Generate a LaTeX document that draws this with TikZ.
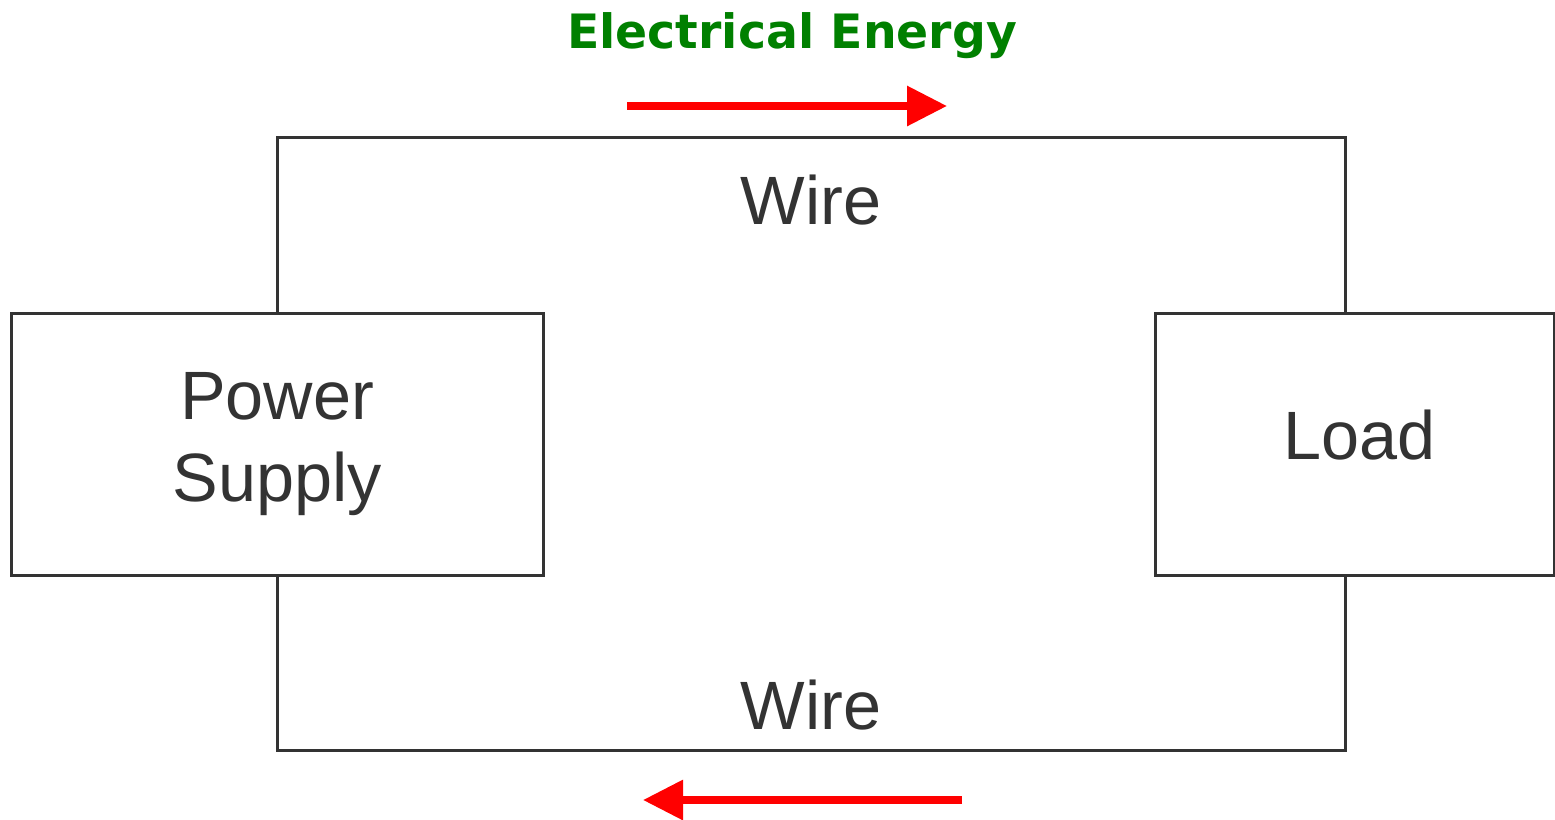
\documentclass[tikz,border=0pt]{standalone}
\usepackage{fontspec}
\setmainfont{Liberation Sans}
\newfontfamily\titlefont{DejaVu Sans}
\usetikzlibrary{arrows.meta}
\definecolor{wiregray}{HTML}{333333}
\definecolor{energygreen}{HTML}{008000}

\begin{document}
\begin{tikzpicture}[x=0.75pt, y=-0.75pt,
    block/.style={draw=wiregray, line width=2.25pt, text=wiregray, align=center,
        font=\fontsize{51.3}{61.5}\selectfont, inner sep=0pt},
    wire/.style={draw=wiregray, line width=2.25pt},
    flow/.style={draw=red, line width=5.5pt, -{Triangle[length=30pt, width=29pt]}},
    lbl/.style={text=wiregray, anchor=base, inner sep=0pt, font=\fontsize{51.3}{61.5}\selectfont}]

    % frame
    \useasboundingbox (0,0) rectangle (1555,819);

    % Power supply and load
    \node [block, minimum width=399pt, minimum height=196.5pt] (ps) at (277,444) {Power\\Supply};
    \node [block, minimum width=299.25pt, minimum height=196.5pt, text depth=13.5pt] (load) at (1354.5,444) {\hspace{7pt}Load};

    % wire corners
    \coordinate (tr) at (1345,137);
    \coordinate (br) at (1345,750);

    % Wires
    \draw [wire] (ps.north) |- (tr) -- (tr |- load.north);
    \draw [wire] (ps.south) |- (br) -- (br |- load.south);
    \node [lbl] (wiretop) at (811,224) {Wire};
    \node [lbl] (wirebot) at (811,729) {Wire};

    % Energy flow
    \node [anchor=base, inner sep=0pt, text=energygreen,
        font=\titlefont\bfseries\fontsize{35.5}{40}\selectfont] (title) at (792,48) {Electrical Energy};
    \coordinate (fwd0) at (627,106);
    \coordinate (fwd1) at (947,106);
    \coordinate (back0) at (962,800);
    \coordinate (back1) at (643,800);
    \draw [flow] (fwd0) -- (fwd1);
    \draw [flow] (back0) -- (back1);

\end{tikzpicture}
\end{document}
